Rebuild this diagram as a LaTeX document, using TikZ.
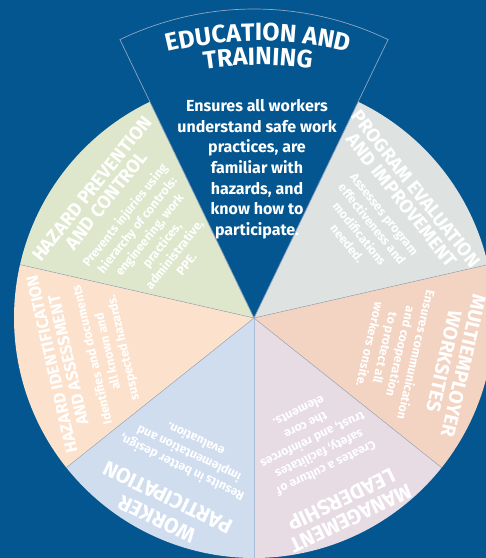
\documentclass[tikz,border=0pt]{standalone}
\usepackage{fontspec}
\setmainfont{Fira Sans}
\newfontfamily\titlefont{Fira Sans}
\usetikzlibrary{decorations.text}
\definecolor{bg}{HTML}{03568F}
\definecolor{edgecol}{HTML}{8EA5C4}
\definecolor{sepcol}{HTML}{A0AAB5}
\definecolor{sepblue}{HTML}{A9BCD6}
\definecolor{cgray}{HTML}{DEE3E1}
\definecolor{cgreen}{HTML}{DEE6CB}
\definecolor{cpeach}{HTML}{FCE2CC}
\definecolor{cblue}{HTML}{D0DDEF}
\definecolor{clav}{HTML}{E7DBE4}
\definecolor{csalmon}{HTML}{F3D3C2}
\tikzset{
  sepline/.style={draw=sepcol, line width=0.5pt},
  ttl/.style n args={2}{text=white, inner sep=0pt, align=center,
    font=\titlefont\bfseries\fontsize{#1}{#2}\selectfont},
  bodytxt/.style={text=white, inner sep=0pt, align=center, anchor=north,
    font=\bfseries\fontsize{12.3}{15.8}\selectfont},
  ebody/.style={text=white, inner sep=0pt, align=center, anchor=north,
    font=\bfseries\fontsize{16}{20.7}\selectfont},
}
\begin{document}
\begin{tikzpicture}[x=1pt,y=1pt]
\fill[bg] (0,0) rectangle (486,558);
\useasboundingbox (0,0) rectangle (486,558);
\coordinate (C) at (254,240);
% sectors
\fill[cgray]   (C) -- ++(12.857:240) arc[start angle=12.857, end angle=64.286, radius=240] -- cycle;
\fill[cgreen]  (C) -- ++(115.714:240) arc[start angle=115.714, end angle=167.143, radius=240] -- cycle;
\fill[cpeach]  (C) -- ++(167.143:240) arc[start angle=167.143, end angle=218.571, radius=240] -- cycle;
\fill[cblue]   (C) -- ++(218.571:240) arc[start angle=218.571, end angle=270, radius=240] -- cycle;
\fill[clav]    (C) -- ++(270:240) arc[start angle=270, end angle=321.429, radius=240] -- cycle;
\fill[csalmon] (C) -- ++(321.429:240) arc[start angle=321.429, end angle=372.857, radius=240] -- cycle;
\foreach \a in {167.143,218.571,321.429,12.857}
  \draw[sepline] (C) -- ++(\a:240);
\draw[sepline, draw=sepblue, line width=0.8pt] (C) -- ++(270:240);
% education sector
\filldraw[fill=bg, draw=edgecol, line width=0.7pt] (C) -- ++(64.286:309) arc[start angle=64.286, end angle=115.714, radius=309] -- cycle;
% education title along arcs
\coordinate (E) at (258,140);
\path[decorate, decoration={text along path, text align=center,
  text={|\titlefont\bfseries\fontsize{25}{26}\selectfont\color{white}|EDUCATION AND}}]
  (E) ++(122:377) arc[start angle=122, end angle=58, radius=377];
\path[decorate, decoration={text along path, text align=center,
  text={|\titlefont\bfseries\fontsize{25}{26}\selectfont\color{white}|TRAINING}}]
  (E) ++(122:353) arc[start angle=122, end angle=58, radius=353];
\node[ebody] (eb) at (257,459) {Ensures all workers\\understand safe work\\practices, are\\familiar with\\hazards, and\\know how to\\participate.};
% titles
\node[ttl={18.9}{18.5}, rotate=-51.43] (tpe) at ([shift={(38.57:198)}]C) {PROGRAM EVALUATION\\AND IMPROVEMENT};
\node[ttl={18.7}{18.5}, rotate=51.43] (thp) at ([shift={(141.43:198)}]C) {HAZARD PREVENTION\\AND CONTROL};
\node[ttl={16.6}{17}, rotate=102.86] (thi) at ([shift={(192.86:199)}]C) {HAZARD IDENTIFICATION\\AND ASSESSMENT};
\node[ttl={21}{24}, rotate=154.29] (twp) at ([shift={(244.29:211)}]C) {WORKER\\PARTICIPATION};
\node[ttl={21}{21}, rotate=205.71] (tml) at ([shift={(295.71:212)}]C) {MANAGEMENT\\LEADERSHIP};
\node[ttl={19.5}{20}, rotate=257.14] (tmw) at ([shift={(347.14:205)}]C) {MULTIEMPLOYER\\WORKSITES};
% bodies
\node[bodytxt, rotate=-51.43] (bpe) at ([shift={(38.57:171)}]C) {Assesses program\\effectiveness and\\modifications\\needed.};
\node[bodytxt, rotate=51.43] (bhp) at ([shift={(141.43:171)}]C) {Prevents injuries using\\hierarchy of controls:\\engineering, work\\practices,\\administrative,\\PPE.};
\node[bodytxt, rotate=102.86] (bhi) at ([shift={(192.86:172)}]C) {Identifies and documents\\all known and\\suspected hazards.};
\node[bodytxt, rotate=154.29] (bwp) at ([shift={(244.29:172)}]C) {Results in better design,\\implementation and\\evaluation.};
\node[bodytxt, rotate=205.71] (bml) at ([shift={(295.71:172)}]C) {Creates a culture of\\safety, facilitates\\trust, and reinforces\\the core\\elements.};
\node[bodytxt, rotate=257.14] (bmw) at ([shift={(347.14:172)}]C) {Ensures communication\\and cooperation\\to protect all\\workers onsite.};
\end{tikzpicture}
\end{document}
